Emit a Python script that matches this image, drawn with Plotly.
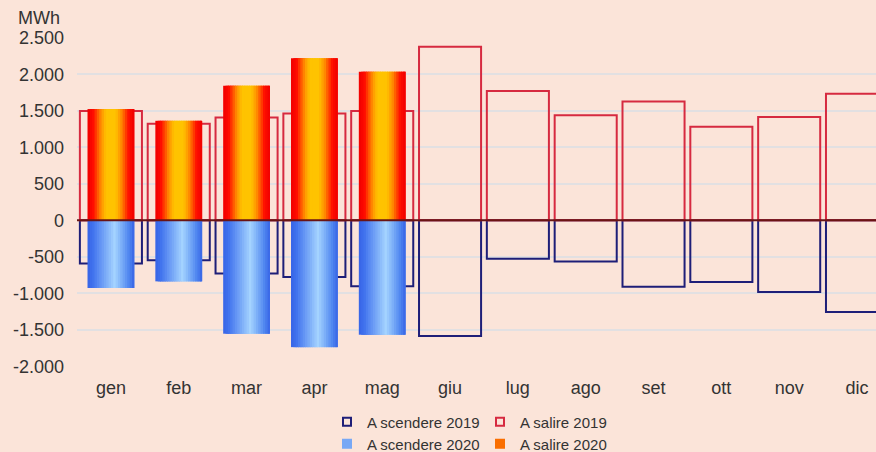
import plotly.graph_objects as go

months = ["gen", "feb", "mar", "apr", "mag", "giu", "lug", "ago", "set", "ott", "nov", "dic"]
salire_2019 = [1495, 1321, 1409, 1463, 1495, 2378, 1770, 1438, 1628, 1280, 1413, 1733]
scendere_2019 = [-594, -549, -731, -777, -905, -1587, -526, -564, -910, -846, -983, -1258]
months_2020 = ["gen", "feb", "mar", "apr", "mag"]
salire_2020 = [1523, 1362, 1842, 2218, 2035]
scendere_2020 = [-928, -837, -1554, -1738, -1568]
y_tickvals = [-2000, -1500, -1000, -500, 0, 500, 1000, 1500, 2000, 2500]
y_ticktext = ["-2.000", "-1.500", "-1.000", "-500", "0", "500", "1.000", "1.500", "2.000", "2.500"]

BG = "#FBE4D9"
RED = "#D62A40"
NAVY = "#1E1E78"
FONT = "Liberation Sans, Arial, sans-serif"
TXT = "#333333"


def lerp(c1, c2, t):
    return tuple(c1[i] + (c2[i] - c1[i]) * t for i in range(3))


def grad(stops, t):
    for (t0, c0), (t1, c1) in zip(stops, stops[1:]):
        if t0 <= t <= t1:
            return lerp(c0, c1, (t - t0) / (t1 - t0) if t1 > t0 else 0)
    return stops[-1][1]


orange_stops = [(0.0, (240, 0, 0)), (0.12, (255, 10, 0)), (0.3, (255, 150, 0)), (0.4, (255, 195, 0)),
                (0.6, (255, 195, 0)), (0.72, (255, 140, 0)), (0.88, (255, 15, 0)), (1.0, (240, 0, 0))]
blue_stops = [(0.0, (55, 100, 230)), (0.12, (65, 115, 238)), (0.58, (165, 212, 255)),
              (0.88, (80, 135, 240)), (1.0, (55, 100, 230))]


def rgb(c):
    return "rgb(%d,%d,%d)" % tuple(int(round(v)) for v in c)


fig = go.Figure()

W19 = 0.915
fig.add_trace(go.Bar(x=months, y=scendere_2019, name="A scendere 2019", width=W19,
                     marker=dict(color="rgba(0,0,0,0)", line=dict(color=NAVY, width=2)),
                     showlegend=False))
fig.add_trace(go.Bar(x=months, y=salire_2019, name="A salire 2019", width=W19,
                     marker=dict(color="rgba(0,0,0,0)", line=dict(color=RED, width=2)),
                     showlegend=False))

W20 = 0.69
N = 20
step = W20 / N
for name, vals, stops in [("A scendere 2020", scendere_2020, blue_stops),
                          ("A salire 2020", salire_2020, orange_stops)]:
    for i in range(N):
        t = (i + 0.5) / N
        col = rgb(grad(stops, t))
        w = min(2.5 * step, W20 - i * step)
        fig.add_trace(go.Bar(x=months_2020, y=vals, name=name, width=w,
                             offset=-W20 / 2 + i * step,
                             marker=dict(color=col, line=dict(width=0)),
                             showlegend=False, hoverinfo="skip"))

# legend entries
for name, sym, col, lcol, leg in [
    ("A scendere 2019", "square-open", NAVY, NAVY, "legend"),
    ("A salire 2019", "square-open", RED, RED, "legend"),
    ("A scendere 2020", "square", "rgb(120,168,245)", "rgb(120,168,245)", "legend2"),
    ("A salire 2020", "square", "rgb(250,110,0)", "rgb(250,110,0)", "legend2"),
]:
    fig.add_trace(go.Scatter(x=[None], y=[None], mode="markers", name=name, legend=leg,
                             marker=dict(symbol=sym, size=8, color=col, line=dict(color=lcol, width=2))))

fig.add_shape(type="line", xref="paper", yref="y", x0=0, x1=1, y0=0, y1=0,
              line=dict(color="#6A1414", width=2), layer="above")

fig.add_annotation(text="MWh", xref="paper", yref="paper", x=-0.0188, y=1.058,
                   xanchor="right", yanchor="middle", showarrow=False,
                   font=dict(family=FONT, size=18, color=TXT))

legend_common = dict(orientation="h", xref="paper", yref="paper", xanchor="left", yanchor="middle",
                     entrywidth=108, entrywidthmode="pixels", bgcolor="rgba(0,0,0,0)",
                     font=dict(family=FONT, size=15, color=TXT), itemclick=False)

fig.update_layout(
    width=876, height=452,
    margin=dict(l=77, r=0, t=37, b=85, autoexpand=False),
    paper_bgcolor=BG, plot_bgcolor=BG,
    barmode="overlay",
    separators=",.",
    showlegend=True,
    legend=dict(x=0.3129, y=-0.1667, **legend_common),
    legend2=dict(x=0.3129, y=-0.2333, **legend_common),
    xaxis=dict(type="category", categoryorder="array", categoryarray=months,
               range=[-0.5, 11.28], showgrid=False, zeroline=False,
               showline=False, ticks="", ticklabelstandoff=8,
               tickfont=dict(family=FONT, size=18, color=TXT)),
    yaxis=dict(range=[-2010, 2510], tickvals=y_tickvals, ticktext=y_ticktext,
               showgrid=True, gridcolor="#E2E0E2", gridwidth=1.5, zeroline=False,
               showline=False, ticks="", ticklabelstandoff=12,
               tickfont=dict(family=FONT, size=18, color=TXT)),
)

fig.write_html("out.html", config={"displayModeBar": False},
               post_script="document.body.style.margin='0';document.body.style.padding='0';"
                           "document.body.style.overflow='hidden';"
                           "document.documentElement.style.background='" + BG + "';")
